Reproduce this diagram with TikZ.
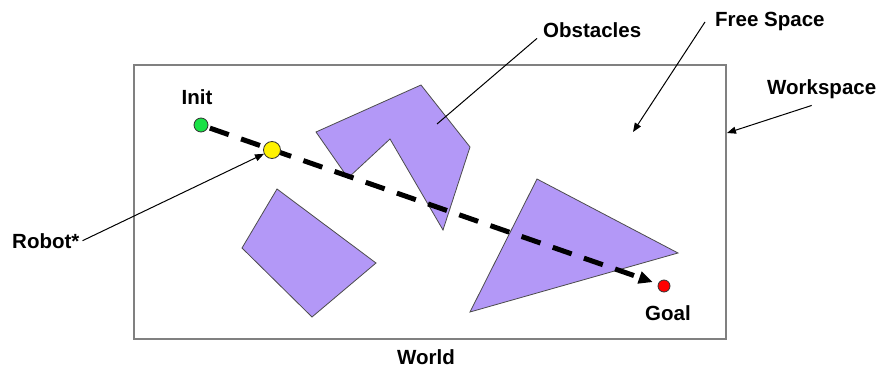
\documentclass[tikz,border=0pt]{standalone}
\usepackage{fontspec}
\setmainfont{Liberation Sans}
\usetikzlibrary{positioning,arrows.meta}
\definecolor{obstfill}{RGB}{179,152,247}
\definecolor{initgreen}{RGB}{25,225,70}

\begin{document}
\begin{tikzpicture}[
  x=1pt, y=-1pt,
  every node/.style={font=\fontsize{20.5}{24}\selectfont\bfseries},
  txt/.style={inner sep=0pt},
  obstacle/.style={draw=black!70, fill=obstfill, line width=0.8pt},
  dot/.style={circle, draw=black!80, line width=0.8pt, inner sep=0pt},
  pointer/.style={-{Triangle[length=9pt,width=7pt]}, line width=1pt},
  route/.style={-{Triangle[length=14pt,width=12pt]}, line width=5pt,
    dash pattern=on 20pt off 13pt, shorten <=2pt, shorten >=5.5pt}
]
\useasboundingbox (0,0) rectangle (884,369);

% Mundo (rectangulo del espacio de trabajo)
\node[draw=black!50, line width=1.3pt, minimum width=592pt, minimum height=274pt,
  inner sep=0pt] (ws) at (430,202) {};
\node[txt, below=10pt of ws, xshift=-4pt] (worldlbl) {World};

% Obstaculos
\draw[obstacle] (316,132) -- (421,85) -- (470,147) -- (443,230) -- (390,139) -- (348,178) -- cycle;
\draw[obstacle] (277,189) -- (376,263) -- (312,317) -- (242,248) -- cycle;
\draw[obstacle] (537,179) -- (678,253) -- (470,312) -- cycle;

% Inicio y meta
\node[dot, fill=initgreen, minimum size=14pt] (init) at (201,125) {};
\node[txt, above=13pt of init, xshift=-4pt] (initlbl) {Init};
\node[dot, fill=red, minimum size=12pt] (goal) at (664,286) {};
\node[txt, below=13pt of goal, xshift=4pt] (goallbl) {Goal};

% Trayectoria
\draw[route] (init) -- (goal);
\node[dot, fill=yellow, minimum size=17pt] (robot) at (272,150) {};

% Etiquetas con flechas
\node[txt, anchor=base west] (robotlbl) at (12,248) {Robot*};
\node[txt, anchor=base west] (obstlbl) at (543,38) {Obstacles};
\node[txt, anchor=base west] (freelbl) at (715,27) {Free Space};
\node[txt, anchor=base west] (wslbl) at (767,95) {Workspace};

\coordinate (obstpt) at (437,124);
\coordinate (freept) at (633,132);
\coordinate (wspt) at (727,133);

\draw[pointer] ([xshift=3pt]robotlbl.east) -- (robot);
\draw[line width=1pt] ([xshift=-6pt]obstlbl.south west) -- (obstpt);
\draw[pointer] ([xshift=-10pt]freelbl.west) -- (freept);
\draw[pointer] ([xshift=-10pt,yshift=-6pt]wslbl.south) -- (wspt);

\end{tikzpicture}
\end{document}
